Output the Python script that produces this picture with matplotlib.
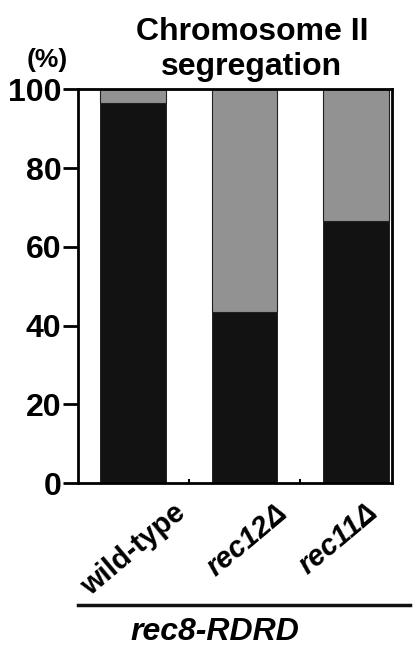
import numpy as np
import matplotlib.pyplot as plt

plt.rcParams['font.family'] = ['Liberation Sans', 'DejaVu Sans']
plt.rcParams['font.weight'] = 'bold'

strains = ['wild-type', 'rec12Δ', 'rec11Δ']
label_italic = [False, True, True]
black_pct = [96.5, 43.5, 66.5]          # black part of each bar
gray_pct = [100 - v for v in black_pct]  # gray part on top
yticks = [0, 20, 40, 60, 80, 100]

fig = plt.figure(figsize=(4.13, 6.53), dpi=100)
ax = fig.add_axes([0.189, 0.260, 0.760, 0.603])

x = np.arange(len(strains))
ax.bar(x, black_pct, width=0.59, color='#121212', edgecolor='#121212', linewidth=0.6)
ax.bar(x, gray_pct, bottom=black_pct, width=0.59, color='#929292',
       edgecolor='#202020', linewidth=0.8)

ax.set_xlim(-0.49, 2.32)
ax.set_ylim(0, 100)
ax.set_yticks(yticks)
ax.set_yticklabels([str(v) for v in yticks], fontsize=23, fontweight='bold')
ax.tick_params(axis='y', length=11, width=2, pad=1)
ax.set_xticks([])
ax.set_xticks([0.5, 1.5], minor=True)
ax.tick_params(axis='x', which='minor', direction='in', length=3, width=1.5)
for s in ax.spines.values():
    s.set_linewidth(2)

# rotated strain labels
offs = [0.44, 0.35, 0.16]
for i, (name, it) in enumerate(zip(strains, label_italic)):
    ax.text(x[i] + offs[i], -0.065, name, transform=ax.get_xaxis_transform(),
            rotation=40, rotation_mode='anchor', ha='right', va='center',
            fontsize=21, fontweight='bold', style='italic' if it else 'normal')

fig.text(0.61, 0.951, 'Chromosome II', ha='center', va='center', fontsize=23, fontweight='bold')
fig.text(0.61, 0.897, 'segregation', ha='center', va='center', fontsize=23, fontweight='bold')
fig.text(0.115, 0.908, '(%)', ha='center', va='center', fontsize=19, fontweight='bold')

fig.add_artist(plt.Line2D([0.189, 0.993], [0.074, 0.074], transform=fig.transFigure,
                          color='#111111', linewidth=2.5))
fig.text(0.52, 0.032, 'rec8-RDRD', ha='center', va='center', fontsize=23,
         fontweight='bold', style='italic')

fig.savefig('out.png', dpi=100, facecolor='white')
